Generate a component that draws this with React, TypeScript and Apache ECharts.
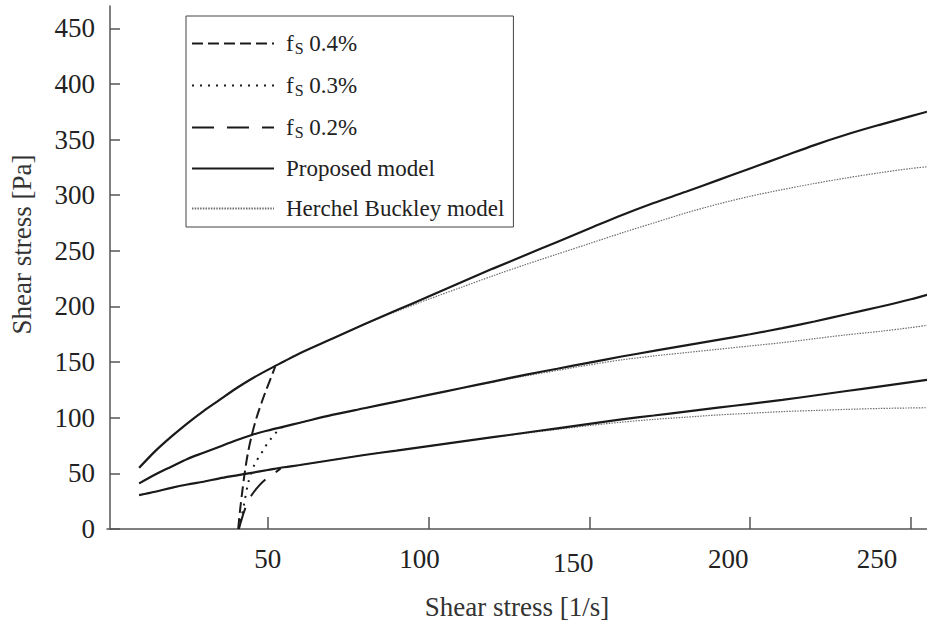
import React, { useEffect, useRef } from 'react';
import * as echarts from 'echarts';

// Shared shear-rate grid for the model curves [1/s]
const xGrid = [10, 15, 20, 25, 30, 35, 40, 45, 50, 55, 60, 70, 80, 90, 100, 110, 120, 130, 140, 150, 160, 170, 180, 190, 200, 210, 220, 230, 240, 250, 255];

// Proposed model (solid) [Pa]
const proposedHigh = [55, 70, 83, 95, 106, 116, 126, 135, 143, 150.5, 158, 171, 184, 196.5, 209, 221.5, 234, 246, 258, 270, 282, 293, 303, 313.5, 324, 334.5, 345, 354.5, 363, 371, 375];
const proposedMid = [41, 49, 56, 63, 68.5, 74, 79.5, 84.5, 88.5, 92, 95.5, 102.5, 108.5, 114.5, 120.5, 126.5, 132.5, 138.5, 144, 149.5, 155, 160, 165, 170, 175, 180.5, 186.5, 193, 199.5, 206.5, 210.5];
const proposedLow = [30.5, 33.5, 37, 40, 42.5, 45.5, 48, 50.5, 53, 55.5, 57.5, 62, 66.5, 70.5, 74.5, 78.5, 82.5, 86.5, 90.5, 94.5, 98.5, 102, 105.5, 109, 112.5, 116, 120, 124, 128, 132, 134];

// Herchel Buckley model (thin dotted) [Pa]
const hbHigh = [55, 70, 83, 95, 106, 116, 126, 135, 143, 150.5, 158, 171, 184, 195.5, 206.5, 217, 227.5, 237.5, 247, 256.5, 266, 275, 284, 292, 299, 305, 310.5, 315.5, 320, 324, 325.5];
const hbMid = [41, 49, 56, 63, 68.5, 74, 79.5, 84.5, 88.5, 92, 95.5, 102.5, 108.5, 114.5, 120.5, 126.5, 132, 137.5, 142.5, 147.5, 152, 155.5, 158.5, 161.5, 164.5, 167.5, 171, 174.5, 177.5, 181, 183];
const hbLow = [30.5, 33.5, 37, 40, 42.5, 45.5, 48, 50.5, 53, 55.5, 57.5, 62, 66.5, 70.5, 74.5, 78.5, 82.5, 86, 89.5, 93, 96, 98.5, 100.5, 102.5, 104, 105.5, 106.5, 107.5, 108.3, 108.8, 109];

// Experimental fS curves
const fs04X = [40.8, 41.3, 42, 42.8, 43.8, 45, 46.5, 48, 49.5, 51, 52.3];
const fs04Y = [0, 15, 32, 50, 68, 84, 100, 113, 125, 136, 145.8];
const fs03X = [41, 41.8, 42.6, 44, 46, 47.6, 49, 50.7, 52.8, 54.8];
const fs03Y = [0, 10, 22, 42.5, 59, 66, 73, 80, 87.4, 92];
const fs02X = [41, 42, 43.2, 45, 47.3, 49.7, 52, 54];
const fs02Y = [0, 10, 20, 30.5, 39, 45.5, 50, 54.5];

const xTicks = [50, 100, 150, 200, 250];
const yTicks = [0, 50, 100, 150, 200, 250, 300, 350, 400, 450];

const pairs = (xs: number[], ys: number[]) => xs.map((x, i) => [x, ys[i]]);

export default function App() {
  const ref = useRef<HTMLDivElement>(null);
  useEffect(() => {
    const chart = echarts.init(ref.current!, null, { renderer: 'svg' });
    const font = '"Liberation Serif", "Times New Roman", serif';
    const solid = { color: '#1a1a1a', width: 2.2, type: 'solid' };
    const hb = { color: '#6e6e6e', width: 1.2, type: [1.5, 1.2] };
    const fs04 = { color: '#1a1a1a', width: 2, type: [11, 5] };
    const fs03 = { color: '#1a1a1a', width: 2, type: [2, 6] };
    const fs02 = { color: '#1a1a1a', width: 2, type: [22, 13] };
    const mk = (name: string, data: number[][], lineStyle: any, z: number) => ({
      type: 'line',
      name,
      data,
      lineStyle,
      itemStyle: { color: lineStyle.color },
      symbol: 'none',
      showSymbol: false,
      smooth: 0.3,
      z,
      emphasis: { disabled: true },
    });
    const axisColor = '#555';
    const xl = { fontFamily: font, fontSize: 27, color: '#222' };
    chart.setOption({
      animation: false,
      backgroundColor: '#fff',
      textStyle: { fontFamily: font },
      grid: { left: 107, right: 0, top: 6, bottom: 97, containLabel: false, outerBoundsMode: 'none' },
      legend: {
        orient: 'vertical',
        left: 186,
        top: 16,
        padding: [15, 9, 7, 5],
        borderColor: '#444',
        borderWidth: 1,
        itemWidth: 82,
        itemHeight: 20,
        itemGap: 17,
        itemStyle: { opacity: 0 },
        data: ['fS 0.4%', 'fS 0.3%', 'fS 0.2%', 'Proposed model', 'Herchel Buckley model'],
        formatter: (name: string) =>
          name.startsWith('fS') ? '{t|f}{s|S}{t|' + name.slice(2) + '}' : '{t|' + name + '}',
        textStyle: {
          fontFamily: font,
          fontSize: 23,
          color: '#222',
          padding: [0, 0, 0, 7],
          rich: {
            t: { fontFamily: font, fontSize: 23, color: '#222', lineHeight: 26 },
            s: { fontFamily: font, fontSize: 16, color: '#222', lineHeight: 16, padding: [9, 0, 0, 1] },
          },
        },
      },
      xAxis: {
        type: 'value',
        min: 0,
        max: 255,
        name: 'Shear stress [1/s]',
        nameLocation: 'middle',
        nameGap: 64,
        nameTextStyle: { fontFamily: font, fontSize: 27, color: '#333' },
        axisLine: { show: true, onZero: false, lineStyle: { color: axisColor, width: 1.5 } },
        axisTick: { show: true, inside: true, length: 12, customValues: xTicks, lineStyle: { color: axisColor, width: 1.5 } },
        axisLabel: {
          customValues: xTicks,
          fontFamily: font,
          fontSize: 27,
          color: '#222',
          margin: 16,
          formatter: (v: number) => '{l' + v + '|' + v + '}',
          rich: {
            l50: { ...xl },
            l100: { ...xl, padding: [0, 18, 0, 0] },
            l150: { ...xl, padding: [4, 32, 0, 0] },
            l200: { ...xl, padding: [0, 44, 0, 0] },
            l250: { ...xl, padding: [0, 68, 0, 0] },
          },
        },
        splitLine: { show: false },
      },
      yAxis: {
        type: 'value',
        min: 0,
        max: 470,
        offset: -3,
        name: 'Shear stress [Pa]',
        nameLocation: 'middle',
        nameGap: 75,
        nameRotate: 90,
        nameTextStyle: { fontFamily: font, fontSize: 27, color: '#333', padding: [0, 0, 0, 46] },
        axisLine: { show: true, onZero: false, lineStyle: { color: axisColor, width: 1.5 } },
        axisTick: { show: true, inside: true, length: 10, customValues: yTicks, lineStyle: { color: axisColor, width: 1.5 } },
        axisLabel: { customValues: yTicks, fontFamily: font, fontSize: 27, color: '#222', margin: 15 },
        splitLine: { show: false },
      },
      series: [
        mk('Herchel Buckley model', pairs(xGrid, hbHigh), hb, 1),
        mk('Herchel Buckley model', pairs(xGrid, hbMid), hb, 1),
        mk('Herchel Buckley model', pairs(xGrid, hbLow), hb, 1),
        mk('Proposed model', pairs(xGrid, proposedHigh), solid, 2),
        mk('Proposed model', pairs(xGrid, proposedMid), solid, 2),
        mk('Proposed model', pairs(xGrid, proposedLow), solid, 2),
        mk('fS 0.4%', pairs(fs04X, fs04Y), fs04, 3),
        mk('fS 0.3%', pairs(fs03X, fs03Y), fs03, 3),
        mk('fS 0.2%', pairs(fs02X, fs02Y), fs02, 3),
      ],
    });
    return () => chart.dispose();
  }, []);
  return (
    <div
      ref={ref}
      style={{ position: 'fixed', left: 0, top: 0, width: 927, height: 626, background: '#fff' }}
    />
  );
}
